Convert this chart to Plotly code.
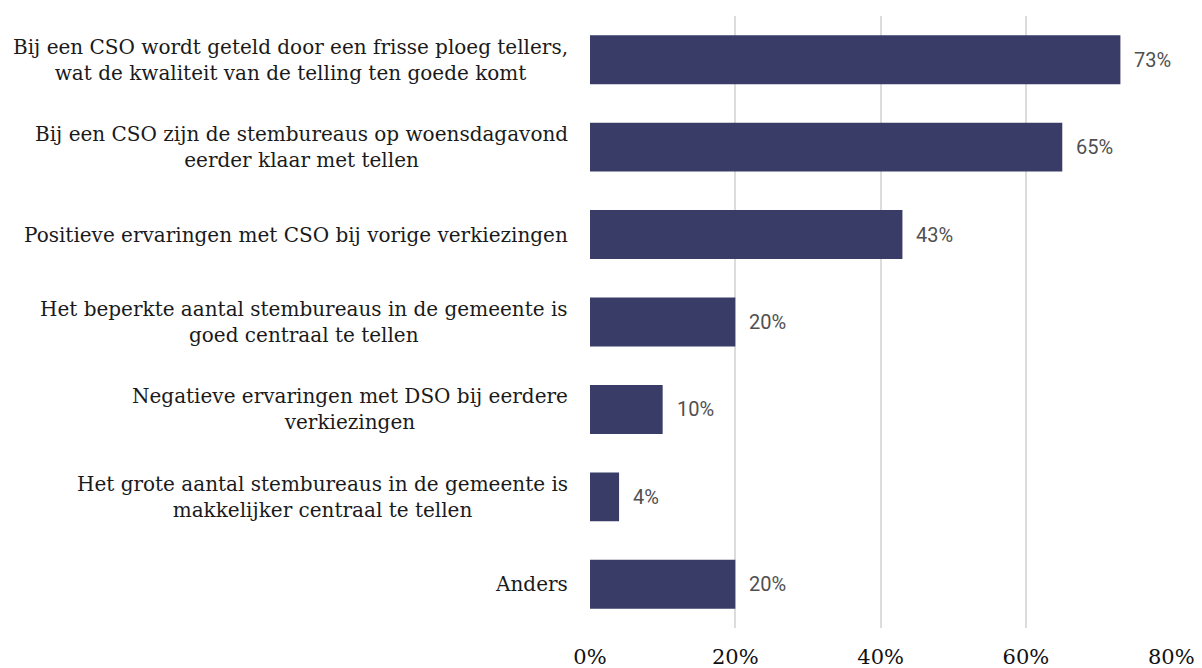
import plotly.graph_objects as go

# Redenen voor centrale stemopneming (CSO), aandeel gemeenten
categories = [
    "Bij een CSO wordt geteld door een frisse ploeg tellers,<br>wat de kwaliteit van de telling ten goede komt",
    "Bij een CSO zijn de stembureaus op woensdagavond<br>eerder klaar met tellen",
    "Positieve ervaringen met CSO bij vorige verkiezingen",
    "Het beperkte aantal stembureaus in de gemeente is<br>goed centraal te tellen",
    "Negatieve ervaringen met DSO bij eerdere<br>verkiezingen",
    "Het grote aantal stembureaus in de gemeente is<br>makkelijker centraal te tellen",
    "Anders",
]
values = [73, 65, 43, 20, 10, 4, 20]
tick_vals = [0, 20, 40, 60, 80]
tick_text = ["0%", "20%", "40%", "60%", "80%"]

BAR = "#393c66"
SERIF = "DejaVu Serif"

fig = go.Figure(
    go.Bar(
        x=values,
        y=categories,
        orientation="h",
        marker=dict(color=BAR, line=dict(width=0)),
        hoverinfo="skip",
    )
)

# Waardelabels rechts van de balken
for cat, v in zip(categories, values):
    fig.add_annotation(
        x=v, y=cat, xref="x", yref="y",
        text=f"{v}%", showarrow=False,
        xanchor="left", xshift=12,
        font=dict(family="Roboto", size=20, color="#505050"),
    )

# Categorielabels, gecentreerd per regel
for cat in categories:
    fig.add_annotation(
        x=0, y=cat, xref="paper", yref="y",
        text=cat, showarrow=False,
        xanchor="right", align="center", xshift=-20,
        font=dict(family=SERIF, size=20, color="#1a1a1a"),
    )

fig.update_layout(
    width=1202, height=668,
    margin=dict(l=590, r=30, t=16, b=40),
    paper_bgcolor="white", plot_bgcolor="white",
    bargap=0.44,
    showlegend=False,
    xaxis=dict(
        range=[0, 80.1],
        tickvals=tick_vals, ticktext=tick_text,
        showgrid=True, gridcolor="#dcdcdc", gridwidth=2,
        zeroline=False, showline=False,
        ticks="", ticklabelstandoff=14,
        tickfont=dict(family=SERIF, size=21, color="#111"),
        automargin=False,
        fixedrange=True,
    ),
    yaxis=dict(
        categoryorder="array", categoryarray=categories[::-1],
        showticklabels=False, showgrid=False, zeroline=False,
        automargin=False,
        fixedrange=True,
    ),
)

fig.write_html("out.html")
